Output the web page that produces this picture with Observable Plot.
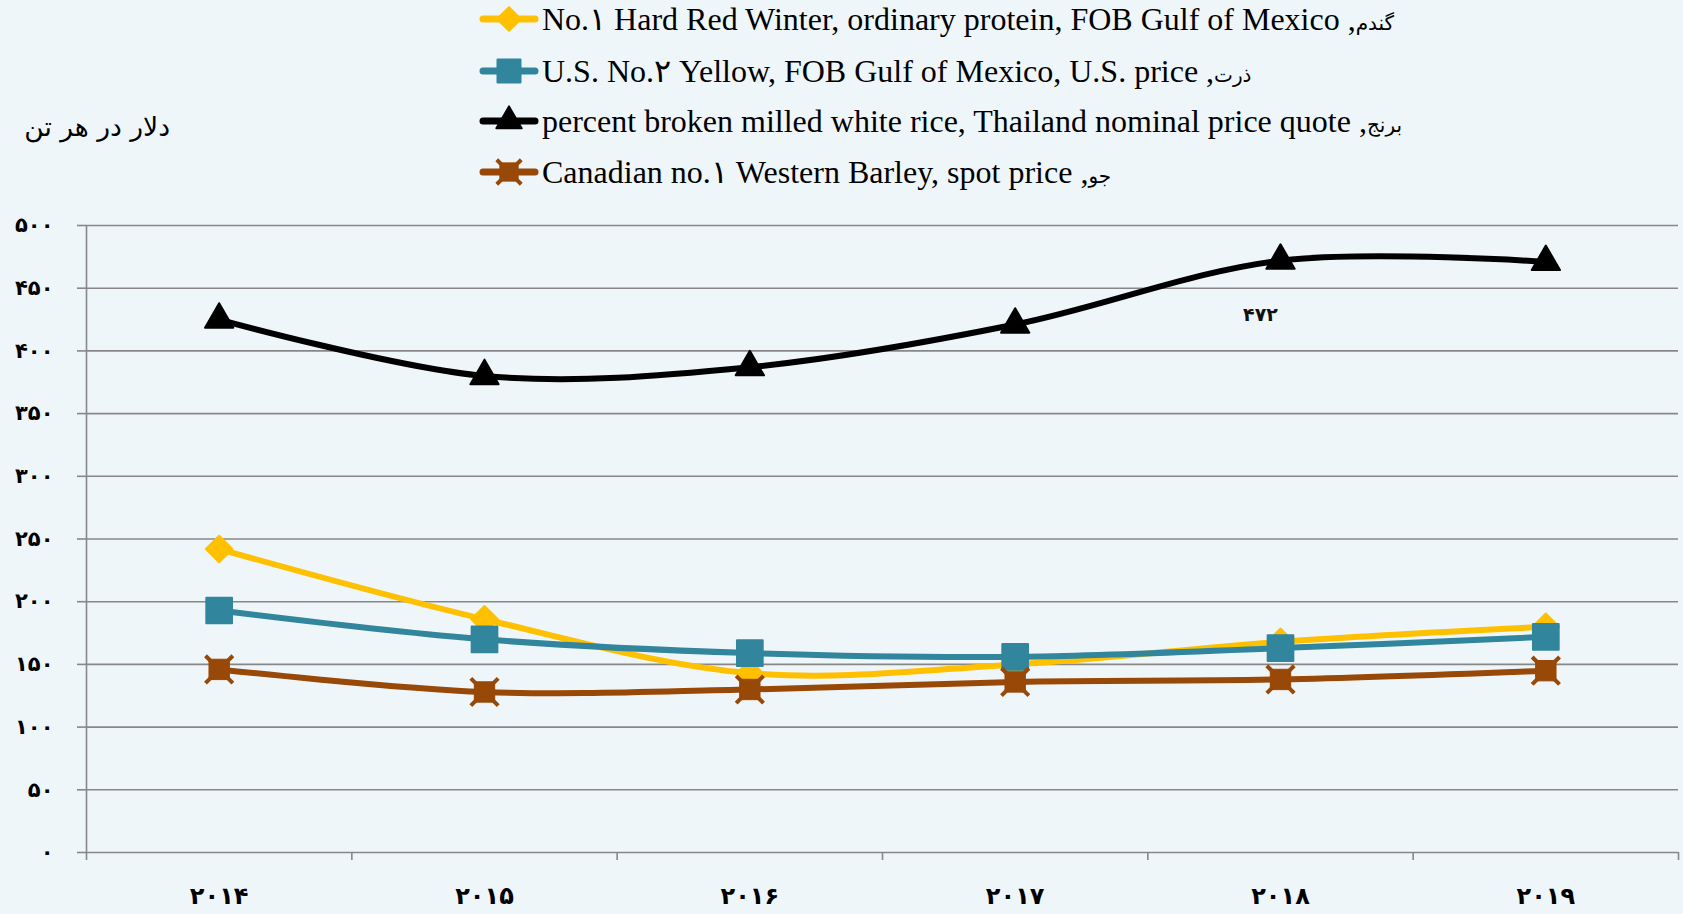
<!DOCTYPE html>
<html><head><meta charset="utf-8">
<script src="https://cdn.jsdelivr.net/npm/d3@7"></script>
<script src="https://cdn.jsdelivr.net/npm/@observablehq/plot@0.6"></script>
<style>
html,body{margin:0;padding:0;background:#EFF6FA;}
#wrap{position:relative;width:1683px;height:914px;overflow:hidden;background:#EFF6FA;}
.row{position:absolute;left:478px;height:40px;display:flex;align-items:center;white-space:nowrap;}
.lab{font-family:"Liberation Serif","Times New Roman",serif;font-size:32px;color:#000;margin-left:2px;}
.fa{font-family:"DejaVu Sans",sans-serif;font-size:20px;}
#ytitle{position:absolute;left:0;width:170px;top:111px;text-align:right;direction:rtl;font-family:"DejaVu Sans",sans-serif;font-size:26.5px;color:#000;}
#chart{position:absolute;left:0;top:0;}
</style></head>
<body><div id="wrap"><div id="chart"></div><div id="ytitle"></div></div>
<script>
const years = [2014, 2015, 2016, 2017, 2018, 2019];
const wheat = [242, 186, 143, 150, 168, 180];
const corn = [193, 170, 159, 156, 163, 172];
const rice = [425, 380, 387, 421, 472, 471];
const barley = [146, 128, 130, 136, 138, 145];
const seriesEn = [
  "No.۱ Hard Red Winter, ordinary protein, FOB Gulf of Mexico",
  "U.S. No.۲ Yellow, FOB Gulf of Mexico, U.S. price",
  "percent broken milled white rice, Thailand nominal price quote ",
  "Canadian no.۱ Western Barley, spot price"
];
const seriesFa = ["گندم", "ذرت", "برنج", "جو"];
const colors = ["#FFC000", "#31859C", "#000000", "#984807"];
const yTicks = [0, 50, 100, 150, 200, 250, 300, 350, 400, 450, 500];
const yTitle = "دلار در هر تن";
const riceLabelIndex = 4;

const faDigits = "۰۱۲۳۴۵۶۷۸۹";
const fa = v => String(v).replace(/\d/g, d => faDigits[+d]);

const allSeries = [wheat, corn, rice, barley];
// marker styles (barley: square + times overlay)
const symbols = [
  [{symbol: "diamond2", r: 12, sw: 2}],
  [{symbol: "square", r: 14.5, sw: 2}],
  [{symbol: "triangle", r: 10.5, sw: 2}],
  [{symbol: "square", r: 11.5, sw: 1}, {symbol: "times", r: 12.5, sw: 4}]
];
const lineWidths = [6, 6, 6, 6];

const seriesMarks = [];
allSeries.forEach((vals, s) => {
  const data = vals.map((v, i) => ({x: i + 0.5, v}));
  seriesMarks.push(Plot.line(data, {x: "x", y: "v", stroke: colors[s], strokeWidth: lineWidths[s], curve: "cardinal"}));
  symbols[s].forEach(sym => {
    seriesMarks.push(Plot.dot(data, {x: "x", y: "v", symbol: sym.symbol, r: sym.r,
      fill: colors[s], stroke: colors[s], strokeWidth: sym.sw, strokeLinejoin: "round"}));
  });
});

const plot = Plot.plot({
  width: 1683, height: 914,
  marginLeft: 86, marginRight: 5, marginTop: 225, marginBottom: 62,
  style: {background: "transparent", overflow: "visible"},
  x: {type: "linear", domain: [0, years.length], label: null},
  y: {domain: [0, 500], label: null},
  marks: [
    Plot.gridY(yTicks, {stroke: "#878787", strokeOpacity: 1, strokeWidth: 1.6}),
    Plot.ruleX([0], {y1: 0, y2: 500, stroke: "#878787", strokeWidth: 1.6}),
    Plot.axisY(yTicks, {tickSize: 9, tickPadding: 24, tickFormat: fa, fontSize: 21, fontWeight: "bold",
      fontFamily: "DejaVu Sans", stroke: "#878787", strokeWidth: 1.6, fill: "#000"}),
    Plot.axisX(d3.range(0, years.length + 1), {tickSize: 8, tickFormat: () => "", stroke: "#878787", strokeWidth: 1.6}),
    Plot.axisX(years.map((d, i) => i + 0.5), {tickSize: 0, tickPadding: 34, tickFormat: v => fa(years[Math.floor(v)]),
      fontSize: 24, fontWeight: "bold", fontFamily: "DejaVu Sans", fill: "#000"}),
    ...seriesMarks,
    Plot.text([{x: riceLabelIndex + 0.5, v: rice[riceLabelIndex]}], {x: "x", y: "v", text: d => fa(d.v),
      dx: -20, dy: 54, fontSize: 19, fontWeight: "bold", fontFamily: "DejaVu Sans", fill: "#111"})
  ]
});
document.getElementById("chart").appendChild(plot);
document.getElementById("ytitle").textContent = yTitle;
d3.select(plot).selectAll("g[aria-label='y-axis tick label'] text").attr("letter-spacing", "3px");
d3.select(plot).selectAll("g[aria-label='x-axis tick label'] text").attr("letter-spacing", "1px");

// legend
const wrap = document.getElementById("wrap");
const rowCenters = [19.3, 70.8, 121.3, 171.7];
const symMap = {diamond2: d3.symbolDiamond2, square: d3.symbolSquare, triangle: d3.symbolTriangle, times: d3.symbolTimes};
seriesEn.forEach((name, s) => {
  const row = document.createElement("div");
  row.className = "row";
  row.style.top = (rowCenters[s] - 20) + "px";
  const svg = d3.create("svg").attr("width", 62).attr("height", 40);
  svg.append("line").attr("x1", 5).attr("x2", 57).attr("y1", 20).attr("y2", 20)
    .attr("stroke", colors[s]).attr("stroke-width", 7).attr("stroke-linecap", "round");
  symbols[s].forEach(sym => {
    svg.append("path").attr("transform", "translate(31,20)")
      .attr("d", d3.symbol(symMap[sym.symbol], Math.PI * sym.r * sym.r * 0.8)())
      .attr("fill", colors[s]).attr("stroke", colors[s])
      .attr("stroke-width", sym.sw).attr("stroke-linejoin", "round");
  });
  row.appendChild(svg.node());
  const lab = document.createElement("span");
  lab.className = "lab";
  lab.innerHTML = name + " ,<span class='fa'>" + seriesFa[s] + "</span>";
  row.appendChild(lab);
  wrap.appendChild(row);
});
</script></body></html>
